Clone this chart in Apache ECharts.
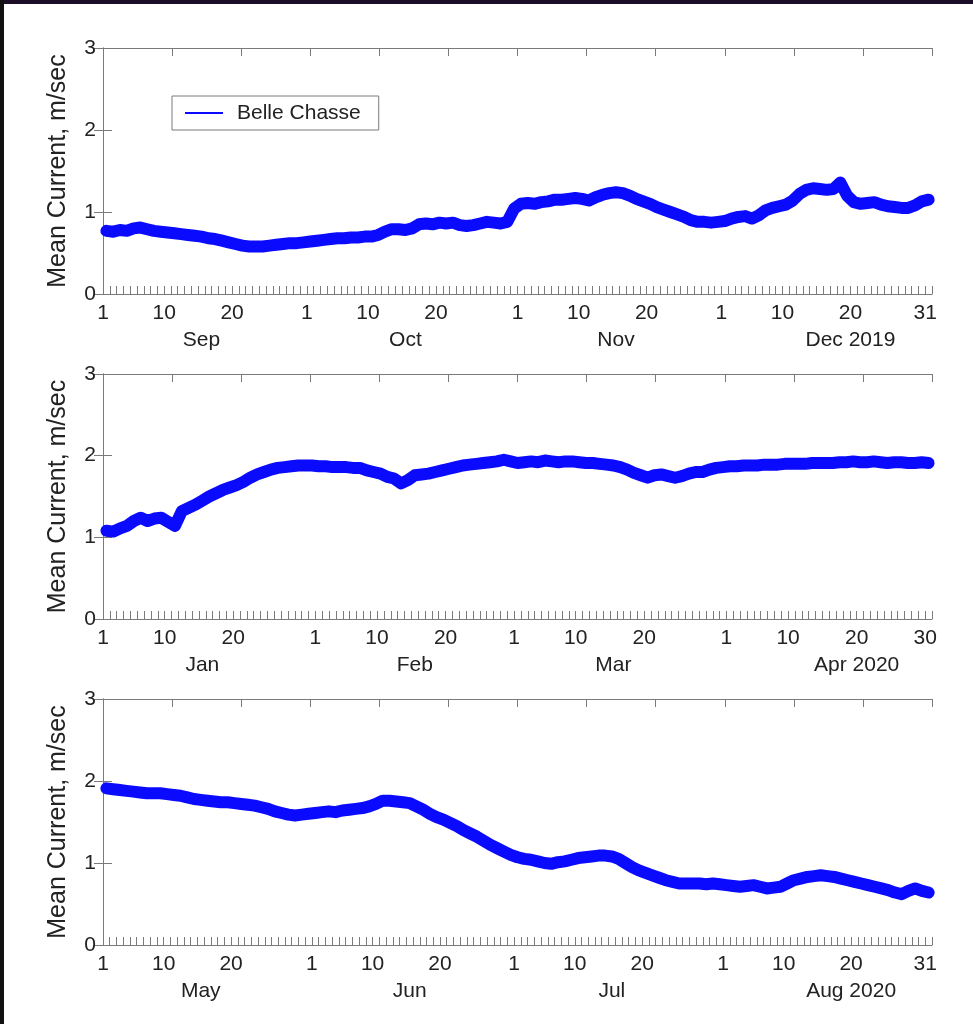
<!DOCTYPE html>
<html>
<head>
<meta charset="utf-8">
<script src="https://cdn.jsdelivr.net/npm/echarts@6/dist/echarts.min.js"></script>
<style>
html, body { margin: 0; padding: 0; background: #fff; }
#chart { position: absolute; left: 0; top: 0; width: 973px; height: 1024px; }
.edgeTop { position: absolute; left: 0; top: 0; width: 973px; height: 4px; background: #1b0e26; }
.edgeLeft { position: absolute; left: 0; top: 0; width: 4px; height: 1024px; background: #111; }
</style>
</head>
<body>
<div id="chart"></div>
<div class="edgeTop"></div>
<div class="edgeLeft"></div>
<script>
var seriesName = 'Belle Chasse';
var yName = 'Mean Current, m/sec';

// daily mean current, m/sec
var sepDec2019 = [
  0.77, 0.76, 0.78, 0.77, 0.80, 0.81, 0.79, 0.77, 0.76, 0.75,
  0.74, 0.73, 0.72, 0.71, 0.70, 0.68, 0.67, 0.65, 0.63, 0.61,
  0.59, 0.58, 0.58, 0.58, 0.59, 0.60, 0.61, 0.62, 0.62, 0.63,
  0.64, 0.65, 0.66, 0.67, 0.68, 0.68, 0.69, 0.69, 0.70, 0.70,
  0.72, 0.76, 0.79, 0.79, 0.78, 0.80, 0.85, 0.86, 0.85, 0.87,
  0.86, 0.87, 0.84, 0.83, 0.84, 0.86, 0.88, 0.87, 0.86, 0.88, 1.04,
  1.10, 1.11, 1.10, 1.12, 1.13, 1.15, 1.15, 1.16, 1.17, 1.16,
  1.14, 1.18, 1.21, 1.23, 1.24, 1.23, 1.20, 1.16, 1.13, 1.10,
  1.06, 1.03, 1.00, 0.97, 0.94, 0.90, 0.88, 0.88, 0.87, 0.88,
  0.89, 0.92, 0.94, 0.95, 0.92, 0.96, 1.02, 1.05, 1.07, 1.09,
  1.14, 1.22, 1.27, 1.29, 1.28, 1.27, 1.28, 1.36, 1.20, 1.12,
  1.10, 1.11, 1.12, 1.09, 1.07, 1.06, 1.05, 1.05, 1.08, 1.13, 1.15
];
var janApr2020 = [
  1.08, 1.07, 1.11, 1.14, 1.20, 1.24, 1.20, 1.23, 1.24, 1.19,
  1.14, 1.32, 1.36, 1.40, 1.45, 1.50, 1.54, 1.58, 1.61, 1.64,
  1.68, 1.73, 1.77, 1.80, 1.83, 1.85, 1.86, 1.87, 1.88, 1.88, 1.88,
  1.87, 1.87, 1.86, 1.86, 1.86, 1.85, 1.85, 1.82, 1.80, 1.78,
  1.74, 1.72, 1.66, 1.70, 1.76, 1.77, 1.78, 1.80, 1.82, 1.84,
  1.86, 1.88, 1.89, 1.90, 1.91, 1.92, 1.93, 1.95, 1.93,
  1.91, 1.92, 1.93, 1.92, 1.94, 1.93, 1.92, 1.93, 1.93, 1.92,
  1.91, 1.91, 1.90, 1.89, 1.88, 1.86, 1.83, 1.79, 1.76, 1.73,
  1.76, 1.77, 1.75, 1.73, 1.75, 1.78, 1.80, 1.80, 1.83, 1.85, 1.86,
  1.87, 1.87, 1.88, 1.88, 1.88, 1.89, 1.89, 1.89, 1.90, 1.90,
  1.90, 1.90, 1.91, 1.91, 1.91, 1.91, 1.92, 1.92, 1.93, 1.92,
  1.92, 1.93, 1.92, 1.91, 1.92, 1.92, 1.91, 1.91, 1.92, 1.91
];
var mayAug2020 = [
  1.91, 1.90, 1.89, 1.88, 1.87, 1.86, 1.85, 1.85, 1.85, 1.84,
  1.83, 1.82, 1.80, 1.78, 1.77, 1.76, 1.75, 1.74, 1.74, 1.73,
  1.72, 1.71, 1.70, 1.68, 1.66, 1.63, 1.61, 1.59, 1.58, 1.59, 1.60,
  1.61, 1.62, 1.63, 1.62, 1.64, 1.65, 1.66, 1.67, 1.69, 1.72,
  1.76, 1.76, 1.75, 1.74, 1.73, 1.69, 1.65, 1.60, 1.56, 1.53,
  1.49, 1.45, 1.40, 1.36, 1.32, 1.27, 1.22, 1.18, 1.14, 1.10,
  1.07, 1.05, 1.04, 1.02, 1.00, 0.99, 1.01, 1.02, 1.04, 1.06,
  1.07, 1.08, 1.09, 1.09, 1.08, 1.05, 1.00, 0.95, 0.91, 0.88,
  0.85, 0.82, 0.79, 0.77, 0.75, 0.75, 0.75, 0.75, 0.74, 0.75, 0.74,
  0.73, 0.72, 0.71, 0.72, 0.73, 0.71, 0.69, 0.70, 0.71, 0.75,
  0.79, 0.81, 0.83, 0.84, 0.85, 0.84, 0.83, 0.81, 0.79, 0.77,
  0.75, 0.73, 0.71, 0.69, 0.67, 0.64, 0.62, 0.66, 0.69, 0.66, 0.64
];

// tick labels
var months1 = ['Sep', 'Oct', 'Nov', 'Dec 2019'];
var months2 = ['Jan', 'Feb', 'Mar', 'Apr 2020'];
var months3 = ['May', 'Jun', 'Jul', 'Aug 2020'];
var monthLen1 = [30, 31, 30, 31];
var monthLen2 = [31, 29, 31, 30];
var monthLen3 = [31, 30, 31, 31];
var dayLabels1 = ['1', '10', '20', '1', '10', '20', '1', '10', '20', '1', '10', '20', '31'];
var dayLabels2 = ['1', '10', '20', '1', '10', '20', '1', '10', '20', '1', '10', '20', '30'];
var dayLabels3 = ['1', '10', '20', '1', '10', '20', '1', '10', '20', '1', '10', '20', '31'];
var yTicks = [0, 1, 2, 3];

var panels = [
  { values: sepDec2019, months: months1, monthLen: monthLen1, dayLabels: dayLabels1 },
  { values: janApr2020, months: months2, monthLen: monthLen2, dayLabels: dayLabels2 },
  { values: mayAug2020, months: months3, monthLen: monthLen3, dayLabels: dayLabels3 }
];

var font = 'Liberation Sans, Arial, sans-serif';
var textColor = '#222';
var frameColor = '#7a7a7a';
var blue = '#0a0aff';
var tops = [48, 374, 699];
var heights = [246, 245, 246];

var grids = [], xAxes = [], yAxes = [], series = [];

panels.forEach(function (p, i) {
  var total = p.monthLen.reduce(function (a, b) { return a + b; }, 0);
  var starts = [], acc = 0;
  p.monthLen.forEach(function (n) { starts.push(acc); acc += n; });

  var dayPos = [];
  starts.forEach(function (s) { dayPos.push(s, s + 9, s + 19); });
  dayPos.push(total - 1);
  var dayText = {};
  dayPos.forEach(function (v, k) { dayText[v] = p.dayLabels[k]; });

  var monthPos = starts.map(function (s, k) { return k < starts.length - 1 ? s + 14.5 : s + 19; });
  var monthText = {};
  monthPos.forEach(function (v, k) { monthText[v] = p.months[k]; });

  grids.push({ left: 103, top: tops[i], width: 829, height: heights[i] });

  // bottom axis: daily ticks, day-of-month labels
  xAxes.push({
    type: 'value', gridIndex: i, position: 'bottom', min: 0, max: total, interval: 1,
    axisLine: { show: true, lineStyle: { color: frameColor, width: 1 } },
    axisTick: { inside: true, length: 8, lineStyle: { color: frameColor } },
    splitLine: { show: false },
    axisLabel: {
      customValues: dayPos, margin: 9, fontSize: 21, color: textColor, fontFamily: font,
      formatter: function (v) { return dayText[v] || ''; }
    }
  });
  // month names under the day labels
  xAxes.push({
    type: 'value', gridIndex: i, position: 'bottom', min: 0, max: total,
    axisLine: { show: false }, axisTick: { show: false }, splitLine: { show: false },
    axisLabel: {
      customValues: monthPos, margin: 36, fontSize: 21, color: textColor, fontFamily: font,
      formatter: function (v) { return monthText[v] || ''; }
    }
  });
  // top frame with its own ticks
  xAxes.push({
    type: 'value', gridIndex: i, position: 'top', min: 0, max: 12, interval: 1,
    axisLine: { show: true, lineStyle: { color: frameColor, width: 1 } },
    axisTick: { inside: true, length: 8, lineStyle: { color: frameColor } },
    axisLabel: { show: false }, splitLine: { show: false }
  });

  yAxes.push({
    type: 'value', gridIndex: i, position: 'left', min: 0, max: 3, interval: 1,
    name: yName, nameLocation: 'middle', nameGap: 32,
    nameTextStyle: { fontSize: 25, color: textColor, fontFamily: font },
    axisLine: { show: true, lineStyle: { color: frameColor, width: 1 } },
    axisTick: { inside: true, length: 9, lineStyle: { color: frameColor } },
    axisLabel: {
      margin: 7, fontSize: 21, color: textColor, fontFamily: font,
      formatter: function (v) { return yTicks.indexOf(v) >= 0 ? String(v) : ''; }
    },
    splitLine: { show: false }
  });
  yAxes.push({
    type: 'value', gridIndex: i, position: 'right', min: 0, max: 3, interval: 1,
    axisLine: { show: true, lineStyle: { color: frameColor, width: 1 } },
    axisTick: { inside: true, length: 9, lineStyle: { color: frameColor } },
    axisLabel: { show: false }, splitLine: { show: false }
  });

  series.push({
    type: 'line', name: seriesName,
    xAxisIndex: i * 3, yAxisIndex: i * 2,
    data: p.values.map(function (v, d) { return [d + 0.5, v]; }),
    symbol: 'none', showSymbol: false,
    lineStyle: { color: blue, width: 12, cap: 'round', join: 'round' },
    itemStyle: { color: blue }
  });
});

var chart = echarts.init(document.getElementById('chart'));
chart.setOption({
  animation: false,
  backgroundColor: '#fff',
  legend: {
    data: [{ name: seriesName, icon: 'rect' }], left: 172, top: 96,
    padding: [6, 18, 6, 13], itemWidth: 38, itemHeight: 2,
    borderColor: frameColor, borderWidth: 1, borderRadius: 0, backgroundColor: '#fff',
    itemStyle: { color: blue },
    textStyle: { fontSize: 21, lineHeight: 22, color: textColor, fontFamily: font, padding: [0, 0, 0, 9] }
  },
  grid: grids,
  xAxis: xAxes,
  yAxis: yAxes,
  series: series
});
</script>
</body>
</html>
